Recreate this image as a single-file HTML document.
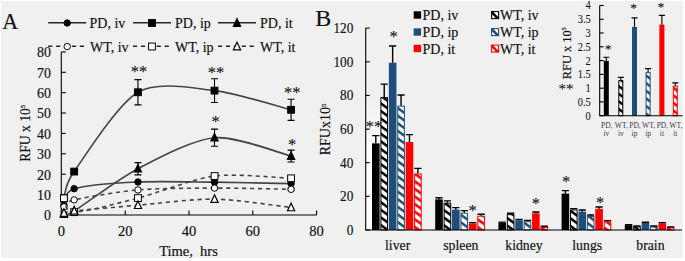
<!DOCTYPE html>
<html><head><meta charset="utf-8"><style>
html,body{margin:0;padding:0;background:#fff;}
svg{display:block;}
text{font-family:"Liberation Serif",serif;fill:#111;stroke:#111;stroke-width:0.18px;}
</style></head><body>
<svg width="685" height="261" viewBox="0 0 685 261">
<defs><pattern id="h0" patternUnits="userSpaceOnUse" width="6.15" height="6.15" patternTransform="rotate(36)"><rect width="6.15" height="6.15" fill="#fff"/><rect y="0" width="6.15" height="2.5" fill="#000000"/></pattern><pattern id="h1" patternUnits="userSpaceOnUse" width="6.15" height="6.15" patternTransform="rotate(36)"><rect width="6.15" height="6.15" fill="#fff"/><rect y="0" width="6.15" height="2.5" fill="#1f4e79"/></pattern><pattern id="h2" patternUnits="userSpaceOnUse" width="6.15" height="6.15" patternTransform="rotate(36)"><rect width="6.15" height="6.15" fill="#fff"/><rect y="0" width="6.15" height="2.5" fill="#ff0000"/></pattern><linearGradient id="wg" x1="0" y1="0" x2="0" y2="1"><stop offset="0" stop-color="#f0f0f0"/><stop offset="1" stop-color="#fbfbfb"/></linearGradient><clipPath id="cs0"><rect x="491.60" y="11.60" width="7.00" height="7.00"/></clipPath><clipPath id="cs1"><rect x="491.60" y="28.60" width="7.00" height="7.00"/></clipPath><clipPath id="cs2"><rect x="491.60" y="45.10" width="7.00" height="7.00"/></clipPath></defs>
<rect x="0" y="0" width="685" height="261" fill="#fff"/>
<rect x="1" y="1" width="682" height="257" fill="#f0f0f0"/>
<path d="M61.3,51.9 V215.0 H316.6" fill="none" stroke="#000" stroke-width="1.1"/>
<path d="M61.3,215.0 h4.5" stroke="#000" stroke-width="1.1"/>
<path d="M61.3,194.6 h4.5" stroke="#000" stroke-width="1.1"/>
<path d="M61.3,174.2 h4.5" stroke="#000" stroke-width="1.1"/>
<path d="M61.3,153.8 h4.5" stroke="#000" stroke-width="1.1"/>
<path d="M61.3,133.4 h4.5" stroke="#000" stroke-width="1.1"/>
<path d="M61.3,113.0 h4.5" stroke="#000" stroke-width="1.1"/>
<path d="M61.3,92.7 h4.5" stroke="#000" stroke-width="1.1"/>
<path d="M61.3,72.3 h4.5" stroke="#000" stroke-width="1.1"/>
<path d="M61.3,51.9 h4.5" stroke="#000" stroke-width="1.1"/>
<path d="M61.4,215.0 v-4.5" stroke="#000" stroke-width="1.1"/>
<path d="M125.2,215.0 v-4.5" stroke="#000" stroke-width="1.1"/>
<path d="M189.0,215.0 v-4.5" stroke="#000" stroke-width="1.1"/>
<path d="M252.8,215.0 v-4.5" stroke="#000" stroke-width="1.1"/>
<path d="M316.6,215.0 v-4.5" stroke="#000" stroke-width="1.1"/>
<path d="M63.95,205.21 C65.40,202.87 63.68,191.99 74.16,188.70 C84.64,185.40 118.08,182.89 137.96,181.97 C157.84,181.04 192.83,181.94 214.52,182.17 C236.21,182.40 280.23,183.40 291.08,183.60" fill="none" stroke="#454545" stroke-width="1.6"/>
<circle cx="63.95" cy="205.21" r="3.20" fill="#000" stroke="#000" stroke-width="1"/>
<circle cx="74.16" cy="188.70" r="3.20" fill="#000" stroke="#000" stroke-width="1"/>
<circle cx="137.96" cy="181.97" r="3.20" fill="#000" stroke="#000" stroke-width="1"/>
<circle cx="214.52" cy="182.17" r="3.20" fill="#000" stroke="#000" stroke-width="1"/>
<circle cx="291.08" cy="183.60" r="3.20" fill="#000" stroke="#000" stroke-width="1"/>
<path d="M63.95,198.28 C65.40,194.50 63.68,186.59 74.16,171.57 C84.64,156.55 118.08,103.72 137.96,92.25 C157.84,80.78 192.83,88.14 214.52,90.62 C236.21,93.11 280.23,107.07 291.08,109.79" fill="none" stroke="#454545" stroke-width="1.6"/>
<path d="M137.96,79.61 V104.89 M134.46,79.61 h7 M134.46,104.89 h7" stroke="#000" stroke-width="1.1" fill="none"/>
<path d="M214.52,78.79 V102.45 M211.02,78.79 h7 M211.02,102.45 h7" stroke="#000" stroke-width="1.1" fill="none"/>
<path d="M291.08,99.18 V120.39 M287.58,99.18 h7 M287.58,120.39 h7" stroke="#000" stroke-width="1.1" fill="none"/>
<rect x="60.55" y="194.88" width="6.80" height="6.80" fill="#000" stroke="#000" stroke-width="1"/>
<rect x="70.76" y="168.17" width="6.80" height="6.80" fill="#000" stroke="#000" stroke-width="1"/>
<rect x="134.56" y="88.85" width="6.80" height="6.80" fill="#000" stroke="#000" stroke-width="1"/>
<rect x="211.12" y="87.22" width="6.80" height="6.80" fill="#000" stroke="#000" stroke-width="1"/>
<rect x="287.68" y="106.39" width="6.80" height="6.80" fill="#000" stroke="#000" stroke-width="1"/>
<path d="M63.95,213.98 C65.40,213.55 63.68,217.33 74.16,210.92 C84.64,204.51 118.08,179.08 137.96,168.71 C157.84,158.34 192.83,139.51 214.52,137.72 C236.21,135.93 280.23,153.47 291.08,156.07" fill="none" stroke="#454545" stroke-width="1.6"/>
<path d="M137.96,162.60 V174.83 M134.46,162.60 h7 M134.46,174.83 h7" stroke="#000" stroke-width="1.1" fill="none"/>
<path d="M214.52,129.16 V146.29 M211.02,129.16 h7 M211.02,146.29 h7" stroke="#000" stroke-width="1.1" fill="none"/>
<path d="M291.08,150.16 V161.99 M287.58,150.16 h7 M287.58,161.99 h7" stroke="#000" stroke-width="1.1" fill="none"/>
<path d="M63.95,209.68 L67.55,217.28 L60.35,217.28 Z" fill="#000" stroke="#000" stroke-width="1.2" stroke-linejoin="miter"/>
<path d="M74.16,206.62 L77.76,214.22 L70.56,214.22 Z" fill="#000" stroke="#000" stroke-width="1.2" stroke-linejoin="miter"/>
<path d="M137.96,164.41 L141.56,172.01 L134.36,172.01 Z" fill="#000" stroke="#000" stroke-width="1.2" stroke-linejoin="miter"/>
<path d="M214.52,133.42 L218.12,141.02 L210.92,141.02 Z" fill="#000" stroke="#000" stroke-width="1.2" stroke-linejoin="miter"/>
<path d="M291.08,151.77 L294.68,159.37 L287.48,159.37 Z" fill="#000" stroke="#000" stroke-width="1.2" stroke-linejoin="miter"/>
<path d="M63.95,206.84 C65.40,205.86 63.68,202.31 74.16,199.91 C84.64,197.51 118.08,191.60 137.96,189.92 C157.84,188.24 192.83,188.17 214.52,188.09 C236.21,188.00 280.23,189.14 291.08,189.31" fill="none" stroke="#454545" stroke-width="1.6" stroke-dasharray="4.2,3.7"/>
<path d="M214.52,186.86 V189.31 M211.02,186.86 h7 M211.02,189.31 h7" stroke="#000" stroke-width="1.1" fill="none"/>
<path d="M291.08,188.09 V190.53 M287.58,188.09 h7 M287.58,190.53 h7" stroke="#000" stroke-width="1.1" fill="none"/>
<circle cx="63.95" cy="206.84" r="3.20" fill="#fff" stroke="#000" stroke-width="1"/>
<circle cx="74.16" cy="199.91" r="3.20" fill="#fff" stroke="#000" stroke-width="1"/>
<circle cx="137.96" cy="189.92" r="3.20" fill="#fff" stroke="#000" stroke-width="1"/>
<circle cx="214.52" cy="188.09" r="3.20" fill="#fff" stroke="#000" stroke-width="1"/>
<circle cx="291.08" cy="189.31" r="3.20" fill="#fff" stroke="#000" stroke-width="1"/>
<path d="M63.95,198.28 C65.40,200.24 63.68,212.17 74.16,212.15 C84.64,212.12 118.08,203.19 137.96,198.08 C157.84,192.96 192.83,178.86 214.52,176.06 C236.21,173.25 280.23,177.98 291.08,178.30" fill="none" stroke="#454545" stroke-width="1.6" stroke-dasharray="4.2,3.7"/>
<path d="M214.52,174.02 V178.09 M211.02,174.02 h7 M211.02,178.09 h7" stroke="#000" stroke-width="1.1" fill="none"/>
<path d="M291.08,176.67 V179.93 M287.58,176.67 h7 M287.58,179.93 h7" stroke="#000" stroke-width="1.1" fill="none"/>
<rect x="60.55" y="194.88" width="6.80" height="6.80" fill="#fff" stroke="#000" stroke-width="1"/>
<rect x="70.76" y="208.75" width="6.80" height="6.80" fill="#fff" stroke="#000" stroke-width="1"/>
<rect x="134.56" y="194.68" width="6.80" height="6.80" fill="#fff" stroke="#000" stroke-width="1"/>
<rect x="211.12" y="172.66" width="6.80" height="6.80" fill="#fff" stroke="#000" stroke-width="1"/>
<rect x="287.68" y="174.90" width="6.80" height="6.80" fill="#fff" stroke="#000" stroke-width="1"/>
<path d="M63.95,212.96 C65.40,212.67 63.68,212.02 74.16,210.92 C84.64,209.82 118.08,206.89 137.96,205.21 C157.84,203.54 192.83,198.78 214.52,199.10 C236.21,199.41 280.23,206.27 291.08,207.46" fill="none" stroke="#454545" stroke-width="1.6" stroke-dasharray="4.2,3.7"/>
<path d="M63.95,208.66 L67.55,216.26 L60.35,216.26 Z" fill="#fff" stroke="#000" stroke-width="1.2" stroke-linejoin="miter"/>
<path d="M74.16,206.62 L77.76,214.22 L70.56,214.22 Z" fill="#fff" stroke="#000" stroke-width="1.2" stroke-linejoin="miter"/>
<path d="M137.96,200.91 L141.56,208.51 L134.36,208.51 Z" fill="#fff" stroke="#000" stroke-width="1.2" stroke-linejoin="miter"/>
<path d="M214.52,194.80 L218.12,202.40 L210.92,202.40 Z" fill="#fff" stroke="#000" stroke-width="1.2" stroke-linejoin="miter"/>
<path d="M291.08,203.16 L294.68,210.76 L287.48,210.76 Z" fill="#fff" stroke="#000" stroke-width="1.2" stroke-linejoin="miter"/>
<path d="M48.2,22.7 H86.2" stroke="#262626" stroke-width="1.5"/><circle cx="67.20" cy="23.00" r="3.20" fill="#000" stroke="#000" stroke-width="1"/>
<path d="M133.0,22.7 H171.0" stroke="#262626" stroke-width="1.5"/><rect x="148.60" y="19.60" width="6.80" height="6.80" fill="#000" stroke="#000" stroke-width="1"/>
<path d="M218.0,22.7 H256.0" stroke="#262626" stroke-width="1.5"/><path d="M237.00,18.70 L240.60,26.30 L233.40,26.30 Z" fill="#000" stroke="#000" stroke-width="1.2" stroke-linejoin="miter"/>
<path d="M48.2,46.2 H86.2" stroke="#262626" stroke-width="1.5" stroke-dasharray="4.2,3.7"/><circle cx="67.20" cy="46.50" r="3.20" fill="#fff" stroke="#000" stroke-width="1"/>
<path d="M133.0,46.2 H171.0" stroke="#262626" stroke-width="1.5" stroke-dasharray="4.2,3.7"/><rect x="148.60" y="43.10" width="6.80" height="6.80" fill="#fff" stroke="#000" stroke-width="1"/>
<path d="M218.0,46.2 H256.0" stroke="#262626" stroke-width="1.5" stroke-dasharray="4.2,3.7"/><path d="M237.00,42.20 L240.60,49.80 L233.40,49.80 Z" fill="#fff" stroke="#000" stroke-width="1.2" stroke-linejoin="miter"/>
<rect x="366.5" y="95" width="14.5" height="50" fill="url(#wg)"/>
<rect x="366.2" y="144" width="6.2" height="85.5" fill="#fdfdfd"/>
<rect x="372.00" y="143.35" width="7.60" height="86.65" fill="#000000"/>
<rect x="380.92" y="97.58" width="6.60" height="132.42" fill="url(#h0)" stroke="#000000" stroke-width="1.00"/>
<rect x="388.84" y="62.76" width="7.60" height="167.24" fill="#1f4e79"/>
<rect x="397.76" y="106.16" width="6.60" height="123.84" fill="url(#h1)" stroke="#1f4e79" stroke-width="1.00"/>
<rect x="405.68" y="142.01" width="7.60" height="87.99" fill="#ff0000"/>
<rect x="414.60" y="173.97" width="6.60" height="56.03" fill="url(#h2)" stroke="#ff0000" stroke-width="1.00"/>
<rect x="435.20" y="199.38" width="7.60" height="30.62" fill="#000000"/>
<rect x="444.12" y="203.24" width="6.60" height="26.76" fill="url(#h0)" stroke="#000000" stroke-width="1.00"/>
<rect x="452.04" y="209.64" width="7.60" height="20.36" fill="#1f4e79"/>
<rect x="460.96" y="213.17" width="6.60" height="16.83" fill="url(#h1)" stroke="#1f4e79" stroke-width="1.00"/>
<rect x="468.88" y="223.44" width="7.60" height="6.56" fill="#ff0000"/>
<rect x="477.80" y="216.20" width="6.60" height="13.80" fill="url(#h2)" stroke="#ff0000" stroke-width="1.00"/>
<rect x="498.40" y="222.77" width="7.60" height="7.23" fill="#000000"/>
<rect x="507.32" y="214.68" width="6.60" height="15.32" fill="url(#h0)" stroke="#000000" stroke-width="1.00"/>
<rect x="515.24" y="220.24" width="7.60" height="9.76" fill="#1f4e79"/>
<rect x="524.16" y="221.75" width="6.60" height="8.25" fill="url(#h1)" stroke="#1f4e79" stroke-width="1.00"/>
<rect x="532.08" y="213.34" width="7.60" height="16.66" fill="#ff0000"/>
<rect x="541.00" y="227.47" width="6.60" height="2.53" fill="url(#h2)" stroke="#ff0000" stroke-width="1.00"/>
<rect x="561.60" y="193.66" width="7.60" height="36.34" fill="#000000"/>
<rect x="570.52" y="209.97" width="6.60" height="20.03" fill="url(#h0)" stroke="#000000" stroke-width="1.00"/>
<rect x="578.44" y="211.66" width="7.60" height="18.34" fill="#1f4e79"/>
<rect x="587.36" y="216.54" width="6.60" height="13.46" fill="url(#h1)" stroke="#1f4e79" stroke-width="1.00"/>
<rect x="595.28" y="208.80" width="7.60" height="21.20" fill="#ff0000"/>
<rect x="604.20" y="221.92" width="6.60" height="8.08" fill="url(#h2)" stroke="#ff0000" stroke-width="1.00"/>
<rect x="624.80" y="225.12" width="7.60" height="4.88" fill="#000000"/>
<rect x="633.72" y="226.97" width="6.60" height="3.03" fill="url(#h0)" stroke="#000000" stroke-width="1.00"/>
<rect x="641.64" y="222.93" width="7.60" height="7.07" fill="#1f4e79"/>
<rect x="650.56" y="226.97" width="6.60" height="3.03" fill="url(#h1)" stroke="#1f4e79" stroke-width="1.00"/>
<rect x="658.48" y="223.27" width="7.60" height="6.73" fill="#ff0000"/>
<rect x="667.40" y="227.98" width="6.60" height="2.02" fill="url(#h2)" stroke="#ff0000" stroke-width="1.00"/>
<path d="M375.80,143.35 V135.61 M372.20,135.61 h7.2" stroke="#000" stroke-width="1.4" fill="none"/>
<path d="M384.22,97.08 V84.13 M380.62,84.13 h7.2" stroke="#000" stroke-width="1.4" fill="none"/>
<path d="M392.64,62.76 V45.93 M389.04,45.93 h7.2" stroke="#000" stroke-width="1.4" fill="none"/>
<path d="M401.06,105.66 V95.06 M397.46,95.06 h7.2" stroke="#000" stroke-width="1.4" fill="none"/>
<path d="M409.48,142.01 V134.60 M405.88,134.60 h7.2" stroke="#000" stroke-width="1.4" fill="none"/>
<path d="M417.90,173.47 V168.42 M414.30,168.42 h7.2" stroke="#000" stroke-width="1.4" fill="none"/>
<path d="M439.00,199.38 V197.70 M435.40,197.70 h7.2" stroke="#000" stroke-width="1.4" fill="none"/>
<path d="M447.42,202.74 V200.89 M443.82,200.89 h7.2" stroke="#000" stroke-width="1.4" fill="none"/>
<path d="M455.84,209.64 V207.62 M452.24,207.62 h7.2" stroke="#000" stroke-width="1.4" fill="none"/>
<path d="M464.26,212.67 V210.65 M460.66,210.65 h7.2" stroke="#000" stroke-width="1.4" fill="none"/>
<path d="M472.68,223.44 V222.60 M469.08,222.60 h7.2" stroke="#000" stroke-width="1.4" fill="none"/>
<path d="M481.10,215.70 V214.18 M477.50,214.18 h7.2" stroke="#000" stroke-width="1.4" fill="none"/>
<path d="M502.20,222.77 V222.09 M498.60,222.09 h7.2" stroke="#000" stroke-width="1.4" fill="none"/>
<path d="M510.62,214.18 V213.18 M507.02,213.18 h7.2" stroke="#000" stroke-width="1.4" fill="none"/>
<path d="M519.04,220.24 V219.40 M515.44,219.40 h7.2" stroke="#000" stroke-width="1.4" fill="none"/>
<path d="M527.46,221.25 V220.41 M523.86,220.41 h7.2" stroke="#000" stroke-width="1.4" fill="none"/>
<path d="M535.88,213.34 V212.00 M532.28,212.00 h7.2" stroke="#000" stroke-width="1.4" fill="none"/>
<path d="M544.30,226.97 V226.30 M540.70,226.30 h7.2" stroke="#000" stroke-width="1.4" fill="none"/>
<path d="M565.40,193.66 V190.63 M561.80,190.63 h7.2" stroke="#000" stroke-width="1.4" fill="none"/>
<path d="M573.82,209.47 V208.63 M570.22,208.63 h7.2" stroke="#000" stroke-width="1.4" fill="none"/>
<path d="M582.24,211.66 V209.98 M578.64,209.98 h7.2" stroke="#000" stroke-width="1.4" fill="none"/>
<path d="M590.66,216.04 V215.03 M587.06,215.03 h7.2" stroke="#000" stroke-width="1.4" fill="none"/>
<path d="M599.08,208.80 V206.95 M595.48,206.95 h7.2" stroke="#000" stroke-width="1.4" fill="none"/>
<path d="M607.50,221.42 V220.58 M603.90,220.58 h7.2" stroke="#000" stroke-width="1.4" fill="none"/>
<path d="M628.60,225.12 V224.62 M625.00,224.62 h7.2" stroke="#000" stroke-width="1.4" fill="none"/>
<path d="M637.02,226.47 V225.96 M633.42,225.96 h7.2" stroke="#000" stroke-width="1.4" fill="none"/>
<path d="M645.44,222.93 V222.26 M641.84,222.26 h7.2" stroke="#000" stroke-width="1.4" fill="none"/>
<path d="M653.86,226.47 V225.96 M650.26,225.96 h7.2" stroke="#000" stroke-width="1.4" fill="none"/>
<path d="M662.28,223.27 V222.60 M658.68,222.60 h7.2" stroke="#000" stroke-width="1.4" fill="none"/>
<path d="M670.70,227.48 V226.97 M667.10,226.97 h7.2" stroke="#000" stroke-width="1.4" fill="none"/>
<path d="M365.7,28.1 V230.0 H682.0" fill="none" stroke="#000" stroke-width="1.1"/>
<path d="M365.7,230.0 h4" stroke="#000" stroke-width="1.1"/>
<path d="M365.7,196.3 h4" stroke="#000" stroke-width="1.1"/>
<path d="M365.7,162.7 h4" stroke="#000" stroke-width="1.1"/>
<path d="M365.7,129.1 h4" stroke="#000" stroke-width="1.1"/>
<path d="M365.7,95.4 h4" stroke="#000" stroke-width="1.1"/>
<path d="M365.7,61.8 h4" stroke="#000" stroke-width="1.1"/>
<path d="M365.7,28.1 h4" stroke="#000" stroke-width="1.1"/>
<rect x="413.70" y="11.30" width="7.40" height="7.40" fill="#000000"/>
<rect x="491.60" y="11.60" width="7.00" height="7.00" fill="#fff"/>
<path clip-path="url(#cs0)" d="M490.60,11.10 L499.60,20.10" stroke="#000000" stroke-width="2.6"/>
<rect x="491.60" y="11.60" width="7.00" height="7.00" fill="none" stroke="#000000" stroke-width="1.1"/>
<rect x="413.70" y="28.30" width="7.40" height="7.40" fill="#1f4e79"/>
<rect x="491.60" y="28.60" width="7.00" height="7.00" fill="#fff"/>
<path clip-path="url(#cs1)" d="M490.60,28.10 L499.60,37.10" stroke="#1f4e79" stroke-width="2.6"/>
<rect x="491.60" y="28.60" width="7.00" height="7.00" fill="none" stroke="#1f4e79" stroke-width="1.1"/>
<rect x="413.70" y="44.80" width="7.40" height="7.40" fill="#ff0000"/>
<rect x="491.60" y="45.10" width="7.00" height="7.00" fill="#fff"/>
<path clip-path="url(#cs2)" d="M490.60,44.60 L499.60,53.60" stroke="#ff0000" stroke-width="2.6"/>
<rect x="491.60" y="45.10" width="7.00" height="7.00" fill="none" stroke="#ff0000" stroke-width="1.1"/>
<rect x="603.80" y="60.88" width="5.00" height="54.82" fill="#000000"/>
<rect x="618.80" y="80.66" width="4.00" height="35.04" fill="url(#h0)" stroke="#000000" stroke-width="1.00"/>
<rect x="632.00" y="26.99" width="5.00" height="88.71" fill="#1f4e79"/>
<rect x="646.10" y="72.40" width="4.00" height="43.30" fill="url(#h1)" stroke="#1f4e79" stroke-width="1.00"/>
<rect x="659.40" y="24.51" width="5.00" height="91.19" fill="#ff0000"/>
<rect x="673.30" y="86.17" width="4.00" height="29.53" fill="url(#h2)" stroke="#ff0000" stroke-width="1.00"/>
<path d="M606.30,60.88 V57.29 M603.30,57.29 h6" stroke="#000" stroke-width="1.1" fill="none"/>
<path d="M620.80,80.16 V77.41 M617.80,77.41 h6" stroke="#000" stroke-width="1.1" fill="none"/>
<path d="M634.50,26.99 V17.90 M631.50,17.90 h6" stroke="#000" stroke-width="1.1" fill="none"/>
<path d="M648.10,71.90 V68.59 M645.10,68.59 h6" stroke="#000" stroke-width="1.1" fill="none"/>
<path d="M661.90,24.51 V15.42 M658.90,15.42 h6" stroke="#000" stroke-width="1.1" fill="none"/>
<path d="M675.30,85.67 V82.92 M672.30,82.92 h6" stroke="#000" stroke-width="1.1" fill="none"/>
<path d="M599.7,5.5 V115.7 H682.5" fill="none" stroke="#000" stroke-width="1.1"/>
<path d="M599.7,115.7 h4" stroke="#000" stroke-width="1.1"/>
<path d="M599.7,101.9 h4" stroke="#000" stroke-width="1.1"/>
<path d="M599.7,88.2 h4" stroke="#000" stroke-width="1.1"/>
<path d="M599.7,74.4 h4" stroke="#000" stroke-width="1.1"/>
<path d="M599.7,60.6 h4" stroke="#000" stroke-width="1.1"/>
<path d="M599.7,46.8 h4" stroke="#000" stroke-width="1.1"/>
<path d="M599.7,33.0 h4" stroke="#000" stroke-width="1.1"/>
<path d="M599.7,19.3 h4" stroke="#000" stroke-width="1.1"/>
<path d="M599.7,5.5 h4" stroke="#000" stroke-width="1.1"/>
<text transform="translate(51.00,220.30) scale(0.930,1)" font-size="15.00" text-anchor="end">0</text>
<text transform="translate(51.00,199.91) scale(0.930,1)" font-size="15.00" text-anchor="end">10</text>
<text transform="translate(51.00,179.52) scale(0.930,1)" font-size="15.00" text-anchor="end">20</text>
<text transform="translate(51.00,159.13) scale(0.930,1)" font-size="15.00" text-anchor="end">30</text>
<text transform="translate(51.00,138.74) scale(0.930,1)" font-size="15.00" text-anchor="end">40</text>
<text transform="translate(51.00,118.35) scale(0.930,1)" font-size="15.00" text-anchor="end">50</text>
<text transform="translate(51.00,97.96) scale(0.930,1)" font-size="15.00" text-anchor="end">60</text>
<text transform="translate(51.00,77.57) scale(0.930,1)" font-size="15.00" text-anchor="end">70</text>
<text transform="translate(51.00,57.18) scale(0.930,1)" font-size="15.00" text-anchor="end">80</text>
<text x="61.40" y="236.00" font-size="14.50" text-anchor="middle">0</text>
<text x="125.20" y="236.00" font-size="14.50" text-anchor="middle">20</text>
<text x="189.00" y="236.00" font-size="14.50" text-anchor="middle">40</text>
<text x="252.80" y="236.00" font-size="14.50" text-anchor="middle">60</text>
<text x="316.60" y="236.00" font-size="14.50" text-anchor="middle">80</text>
<text x="188.50" y="256.00" font-size="14.50" text-anchor="middle">Time,&#160; hrs</text>
<text transform="translate(2.20,29.10) scale(0.920,1)" font-size="24.00" text-anchor="start">A</text>
<text x="315.20" y="25.90" font-size="24.00" text-anchor="start">B</text>
<text transform="translate(29.8,133.2) rotate(-90)" font-size="13.6" text-anchor="middle">RFU x 10<tspan font-size="7" dy="-4.5">5</tspan></text>
<text x="89.50" y="27.50" font-size="14.00" text-anchor="start">PD, iv</text>
<text x="175.00" y="27.50" font-size="14.00" text-anchor="start">PD, ip</text>
<text x="260.00" y="27.50" font-size="14.00" text-anchor="start">PD, it</text>
<text x="90.00" y="51.50" font-size="14.00" text-anchor="start">WT, iv</text>
<text x="175.00" y="51.50" font-size="14.00" text-anchor="start">WT, ip</text>
<text x="260.00" y="51.50" font-size="14.00" text-anchor="start">WT, it</text>
<text x="138.90" y="76.79" font-size="16.50" text-anchor="middle" style="stroke-width:0.1px">**</text>
<text x="215.90" y="77.59" font-size="16.50" text-anchor="middle" style="stroke-width:0.1px">**</text>
<text x="292.20" y="97.69" font-size="16.50" text-anchor="middle" style="stroke-width:0.1px">**</text>
<text x="215.70" y="126.59" font-size="16.50" text-anchor="middle" style="stroke-width:0.1px">*</text>
<text x="292.20" y="150.39" font-size="16.50" text-anchor="middle" style="stroke-width:0.1px">*</text>
<text transform="translate(353.30,234.90) scale(0.850,1)" font-size="15.60" text-anchor="end">0</text>
<text transform="translate(353.30,201.25) scale(0.850,1)" font-size="15.60" text-anchor="end">20</text>
<text transform="translate(353.30,167.60) scale(0.850,1)" font-size="15.60" text-anchor="end">40</text>
<text transform="translate(353.30,133.95) scale(0.850,1)" font-size="15.60" text-anchor="end">60</text>
<text transform="translate(353.30,100.30) scale(0.850,1)" font-size="15.60" text-anchor="end">80</text>
<text transform="translate(353.30,66.65) scale(0.850,1)" font-size="15.60" text-anchor="end">100</text>
<text transform="translate(353.30,33.00) scale(0.850,1)" font-size="15.60" text-anchor="end">120</text>
<text transform="translate(397.60,249.50) scale(0.950,1)" font-size="14.50" text-anchor="middle">liver</text>
<text transform="translate(460.80,249.50) scale(0.950,1)" font-size="14.50" text-anchor="middle">spleen</text>
<text transform="translate(524.00,249.50) scale(0.950,1)" font-size="14.50" text-anchor="middle">kidney</text>
<text transform="translate(587.20,249.50) scale(0.950,1)" font-size="14.50" text-anchor="middle">lungs</text>
<text transform="translate(650.40,249.50) scale(0.950,1)" font-size="14.50" text-anchor="middle">brain</text>
<text transform="translate(330,129.4) rotate(-90)" font-size="14" text-anchor="middle" style="stroke-width:0.15px">RFUx10<tspan font-size="7" dy="-4.5">5</tspan></text>
<text x="422.50" y="20.00" font-size="14.00" text-anchor="start">PD, iv</text>
<text x="500.00" y="20.00" font-size="14.00" text-anchor="start">WT, iv</text>
<text x="422.50" y="37.00" font-size="14.00" text-anchor="start">PD, ip</text>
<text x="500.00" y="37.00" font-size="14.00" text-anchor="start">WT, ip</text>
<text x="422.50" y="53.50" font-size="14.00" text-anchor="start">PD, it</text>
<text x="500.00" y="53.50" font-size="14.00" text-anchor="start">WT, it</text>
<text x="393.70" y="41.59" font-size="16.50" text-anchor="middle" style="stroke-width:0.1px">*</text>
<text x="373.90" y="132.39" font-size="16.50" text-anchor="middle" style="stroke-width:0.1px">**</text>
<text x="472.60" y="216.09" font-size="16.50" text-anchor="middle" style="stroke-width:0.1px">*</text>
<text x="535.90" y="209.39" font-size="16.50" text-anchor="middle" style="stroke-width:0.1px">*</text>
<text x="566.20" y="186.69" font-size="16.50" text-anchor="middle" style="stroke-width:0.1px">*</text>
<text x="600.10" y="208.09" font-size="16.50" text-anchor="middle" style="stroke-width:0.1px">*</text>
<text transform="translate(590.80,119.60) scale(0.870,1)" font-size="12.00" text-anchor="end" style="stroke-width:0.05px">0</text>
<text transform="translate(590.80,105.83) scale(0.870,1)" font-size="12.00" text-anchor="end" style="stroke-width:0.05px">0.5</text>
<text transform="translate(590.80,92.05) scale(0.870,1)" font-size="12.00" text-anchor="end" style="stroke-width:0.05px">1</text>
<text transform="translate(590.80,78.28) scale(0.870,1)" font-size="12.00" text-anchor="end" style="stroke-width:0.05px">1.5</text>
<text transform="translate(590.80,64.50) scale(0.870,1)" font-size="12.00" text-anchor="end" style="stroke-width:0.05px">2</text>
<text transform="translate(590.80,50.73) scale(0.870,1)" font-size="12.00" text-anchor="end" style="stroke-width:0.05px">2.5</text>
<text transform="translate(590.80,36.95) scale(0.870,1)" font-size="12.00" text-anchor="end" style="stroke-width:0.05px">3</text>
<text transform="translate(590.80,23.18) scale(0.870,1)" font-size="12.00" text-anchor="end" style="stroke-width:0.05px">3.5</text>
<text transform="translate(590.80,9.40) scale(0.870,1)" font-size="12.00" text-anchor="end" style="stroke-width:0.05px">4</text>
<text transform="translate(570.6,53.2) rotate(-90)" font-size="12.4" text-anchor="middle">RFU x 10<tspan font-size="6.5" dy="-4.2">5</tspan></text>
<text x="566.00" y="94.06" font-size="15.00" text-anchor="middle" style="stroke-width:0.1px">**</text>
<text x="608.00" y="53.03" font-size="13.50" text-anchor="middle" style="stroke-width:0.1px">*</text>
<text x="633.50" y="11.73" font-size="13.50" text-anchor="middle" style="stroke-width:0.1px">*</text>
<text x="660.80" y="11.33" font-size="13.50" text-anchor="middle" style="stroke-width:0.1px">*</text>
<text x="606.80" y="127.50" font-size="7.50" text-anchor="middle" style="stroke-width:0;fill:#3a3a4a">PD,</text>
<text x="606.30" y="136.00" font-size="7.50" text-anchor="middle" style="stroke-width:0;fill:#3a3a4a">iv</text>
<text x="621.30" y="127.50" font-size="7.50" text-anchor="middle" style="stroke-width:0;fill:#3a3a4a">WT,</text>
<text x="620.80" y="136.00" font-size="7.50" text-anchor="middle" style="stroke-width:0;fill:#3a3a4a">iv</text>
<text x="635.00" y="127.50" font-size="7.50" text-anchor="middle" style="stroke-width:0;fill:#3a3a4a">PD,</text>
<text x="634.50" y="136.00" font-size="7.50" text-anchor="middle" style="stroke-width:0;fill:#3a3a4a">ip</text>
<text x="648.60" y="127.50" font-size="7.50" text-anchor="middle" style="stroke-width:0;fill:#3a3a4a">WT,</text>
<text x="648.10" y="136.00" font-size="7.50" text-anchor="middle" style="stroke-width:0;fill:#3a3a4a">ip</text>
<text x="662.40" y="127.50" font-size="7.50" text-anchor="middle" style="stroke-width:0;fill:#3a3a4a">PD,</text>
<text x="661.90" y="136.00" font-size="7.50" text-anchor="middle" style="stroke-width:0;fill:#3a3a4a">it</text>
<text x="675.80" y="127.50" font-size="7.50" text-anchor="middle" style="stroke-width:0;fill:#3a3a4a">WT,</text>
<text x="675.30" y="136.00" font-size="7.50" text-anchor="middle" style="stroke-width:0;fill:#3a3a4a">it</text>
</svg>
</body></html>
